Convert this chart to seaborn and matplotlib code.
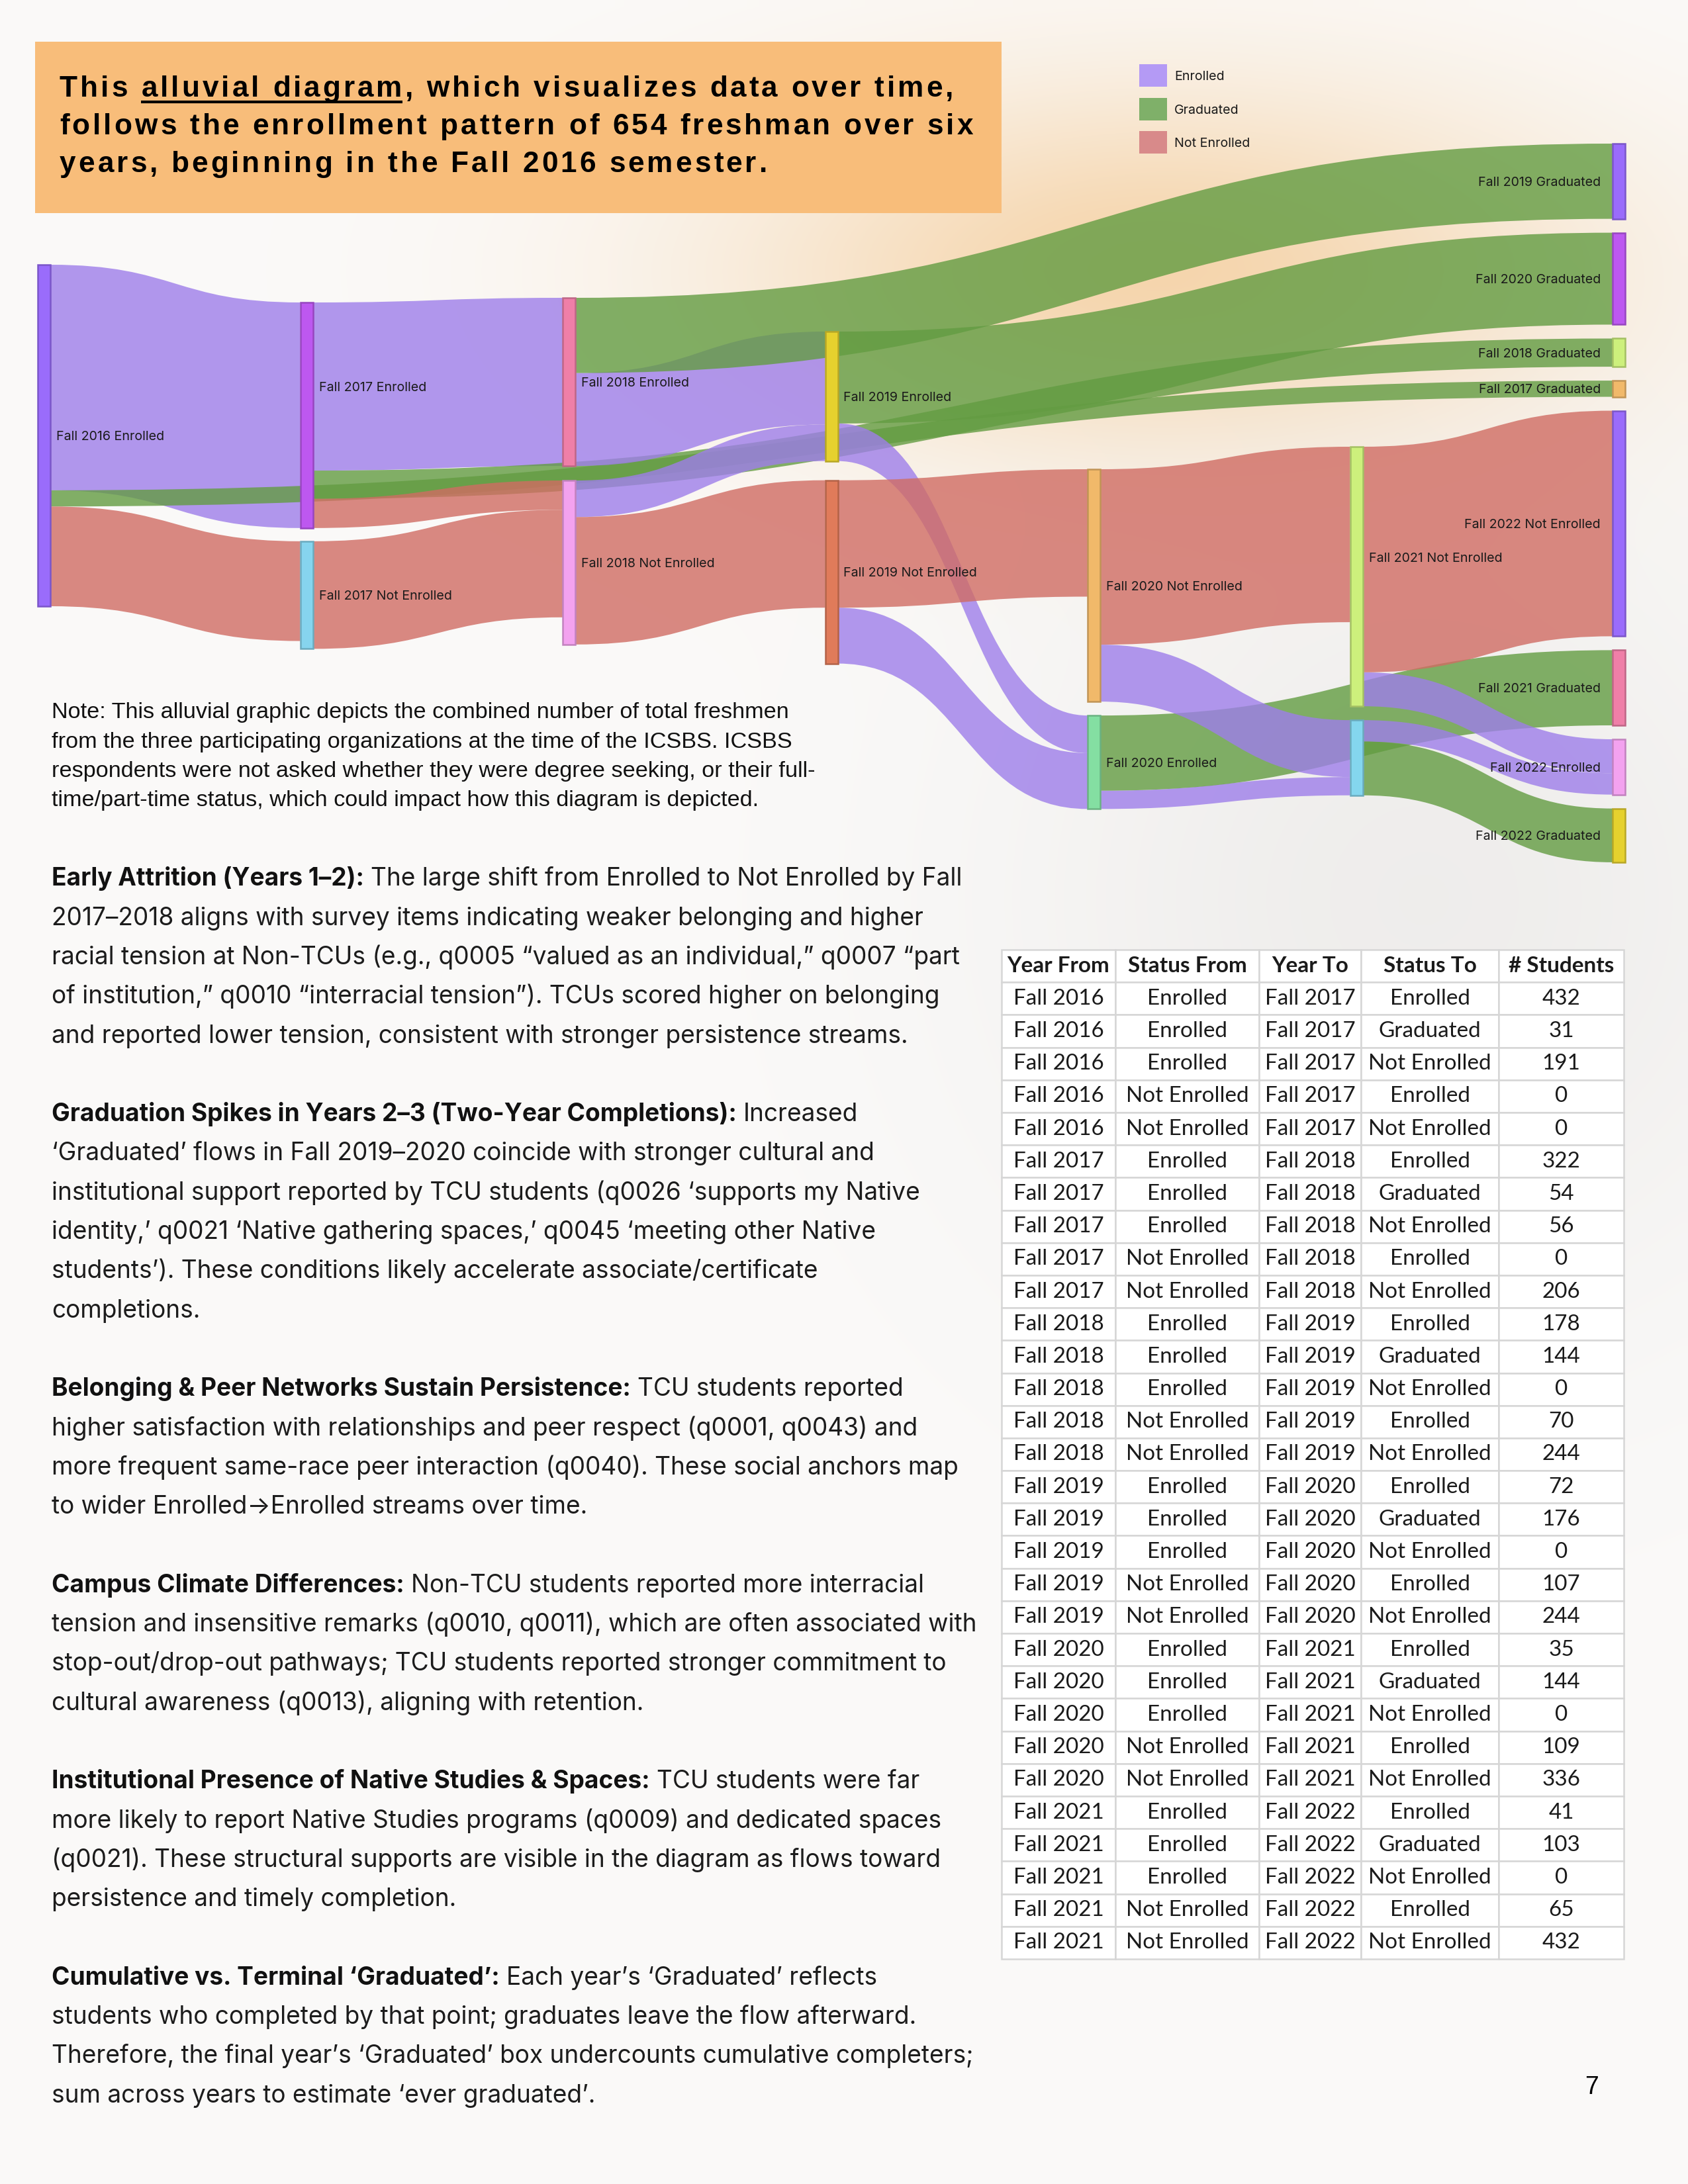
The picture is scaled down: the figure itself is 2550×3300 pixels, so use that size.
import matplotlib
matplotlib.use("Agg")
import numpy as np
import pandas as pd
import matplotlib.pyplot as plt
import matplotlib.colors as mcolors
import seaborn as sns
from matplotlib.path import Path
from matplotlib.patches import PathPatch, Rectangle

# --- Data: student flows between fall semesters (table on the page) ---
YEAR_FROM = (["Fall 2016"] * 5 + ["Fall 2017"] * 5 + ["Fall 2018"] * 5 +
             ["Fall 2019"] * 5 + ["Fall 2020"] * 5 + ["Fall 2021"] * 5)
STATUS_FROM = ["Enrolled", "Enrolled", "Enrolled", "Not Enrolled", "Not Enrolled"] * 6
YEAR_TO = (["Fall 2017"] * 5 + ["Fall 2018"] * 5 + ["Fall 2019"] * 5 +
           ["Fall 2020"] * 5 + ["Fall 2021"] * 5 + ["Fall 2022"] * 5)
STATUS_TO = ["Enrolled", "Graduated", "Not Enrolled", "Enrolled", "Not Enrolled"] * 6
STUDENTS = [432, 31, 191, 0, 0,
            322, 54, 56, 0, 206,
            178, 144, 0, 70, 244,
            72, 176, 0, 107, 244,
            35, 144, 0, 109, 336,
            41, 103, 0, 65, 432]
TABLE_HEADER = ["Year From", "Status From", "Year To", "Status To", "# Students"]
STATUSES = ["Enrolled", "Graduated", "Not Enrolled"]

# node order inside each sankey column (graduates are sinks -> last column)
COLUMN_NODES = [
    ["Fall 2016 Enrolled"],
    ["Fall 2017 Enrolled", "Fall 2017 Not Enrolled"],
    ["Fall 2018 Enrolled", "Fall 2018 Not Enrolled"],
    ["Fall 2019 Enrolled", "Fall 2019 Not Enrolled"],
    ["Fall 2020 Not Enrolled", "Fall 2020 Enrolled"],
    ["Fall 2021 Not Enrolled", "Fall 2021 Enrolled"],
    ["Fall 2019 Graduated", "Fall 2020 Graduated", "Fall 2018 Graduated",
     "Fall 2017 Graduated", "Fall 2022 Not Enrolled", "Fall 2021 Graduated",
     "Fall 2022 Enrolled", "Fall 2022 Graduated"],
]
NODE_COLORS = {
    "Fall 2016 Enrolled": "#9a6cfb",
    "Fall 2017 Enrolled": "#bd58f0", "Fall 2017 Not Enrolled": "#86d4ee",
    "Fall 2018 Enrolled": "#ef7fa8", "Fall 2018 Not Enrolled": "#f3a2ef",
    "Fall 2019 Enrolled": "#e6d12e", "Fall 2019 Not Enrolled": "#e07b5a",
    "Fall 2020 Not Enrolled": "#f1b96a", "Fall 2020 Enrolled": "#84dfa2",
    "Fall 2021 Not Enrolled": "#cdf07c", "Fall 2021 Enrolled": "#84d6ee",
    "Fall 2019 Graduated": "#9a6cfb", "Fall 2020 Graduated": "#bd58f0",
    "Fall 2018 Graduated": "#cdf07c", "Fall 2017 Graduated": "#f1b96a",
    "Fall 2022 Not Enrolled": "#9a6cfb", "Fall 2021 Graduated": "#ef7fa8",
    "Fall 2022 Enrolled": "#f3a2ef", "Fall 2022 Graduated": "#e6d12e",
}
LINK_COLORS = {"Enrolled": "#9e7eea", "Graduated": "#639c42", "Not Enrolled": "#d06c63"}
LEGEND_COLORS = {"Enrolled": "#b49af5", "Graduated": "#7fb069", "Not Enrolled": "#d88a8a"}
# labels that sit off-centre (or are hidden) in the original rendering
LABEL_DY = {"Fall 2017 Enrolled": -44, "Fall 2021 Not Enrolled": -29}
HIDDEN_LABELS = {"Fall 2021 Enrolled"}

TITLE_LINES = ["This alluvial diagram, which visualizes data over time,",
               "follows the enrollment pattern of 654 freshman over six",
               "years, beginning in the Fall 2016 semester."]
NOTE_LINES = ["Note: This alluvial graphic depicts the combined number of total freshmen",
              "from the three participating organizations at the time of the ICSBS. ICSBS",
              "respondents were not asked whether they were degree seeking, or their full-",
              "time/part-time status, which could impact how this diagram is depicted."]
PARAGRAPHS = [
    ("Early Attrition (Years 1\u20132):",
     ["The large shift from Enrolled to Not Enrolled by Fall",
      "2017\u20132018 aligns with survey items indicating weaker belonging and higher",
      "racial tension at Non-TCUs (e.g., q0005 \u201cvalued as an individual,\u201d q0007 \u201cpart",
      "of institution,\u201d q0010 \u201cinterracial tension\u201d). TCUs scored higher on belonging",
      "and reported lower tension, consistent with stronger persistence streams."]),
    ("Graduation Spikes in Years 2\u20133 (Two-Year Completions):",
     ["Increased",
      "\u2018Graduated\u2019 flows in Fall 2019\u20132020 coincide with stronger cultural and",
      "institutional support reported by TCU students (q0026 \u2018supports my Native",
      "identity,\u2019 q0021 \u2018Native gathering spaces,\u2019 q0045 \u2018meeting other Native",
      "students\u2019). These conditions likely accelerate associate/certificate",
      "completions."]),
    ("Belonging & Peer Networks Sustain Persistence:",
     ["TCU students reported",
      "higher satisfaction with relationships and peer respect (q0001, q0043) and",
      "more frequent same-race peer interaction (q0040). These social anchors map",
      "to wider Enrolled\u2192Enrolled streams over time."]),
    ("Campus Climate Differences:",
     ["Non-TCU students reported more interracial",
      "tension and insensitive remarks (q0010, q0011), which are often associated with",
      "stop-out/drop-out pathways; TCU students reported stronger commitment to",
      "cultural awareness (q0013), aligning with retention."]),
    ("Institutional Presence of Native Studies & Spaces:",
     ["TCU students were far",
      "more likely to report Native Studies programs (q0009) and dedicated spaces",
      "(q0021). These structural supports are visible in the diagram as flows toward",
      "persistence and timely completion."]),
    ("Cumulative vs. Terminal \u2018Graduated\u2019:",
     ["Each year\u2019s \u2018Graduated\u2019 reflects",
      "students who completed by that point; graduates leave the flow afterward.",
      "Therefore, the final year\u2019s \u2018Graduated\u2019 box undercounts cumulative completers;",
      "sum across years to estimate \u2018ever graduated\u2019."]),
]

# --- Page geometry (pixels of the 2550x3300 page) ---
W, H = 2550, 3300
PT2PX = 300 / 72
PX_PER_STUDENT = 0.789
COL_X0, COL_STEP, NODE_W = 57, 396.5, 19
COL_TOP = [400, 457, 450, 501, 709, 675, 217]
COL_GAP = [0, 20, 22, 29, 21, 21, 21]

sns.set_theme(style="white")
plt.rcParams["font.family"] = ["Inter", "DejaVu Sans"]

fig = plt.figure(figsize=(8.5, 11), dpi=300)
ax = fig.add_axes([0, 0, 1, 1])
ax.set_xlim(0, W)
ax.set_ylim(H, 0)
ax.axis("off")
renderer = fig.canvas.get_renderer()

# soft page background: peach glow top right, grey wash on the right
gy, gx = np.mgrid[0:H:20, 0:W:20]
base = np.array([251, 250, 249], float)
peach = np.array([245, 204, 152], float)
grey = np.array([224, 222, 220], float)
w1 = 0.8 * np.exp(-((gx - 1750) / 650) ** 2 - ((gy - 400) / 280) ** 2)
w2 = 0.45 * np.exp(-((gx - 2150) / 650) ** 2 - ((gy - 1350) / 650) ** 2)
img = base * (1 - w1[..., None]) + peach * w1[..., None]
img = img * (1 - w2[..., None]) + grey * w2[..., None]
ax.imshow(img / 255, extent=[0, W, H, 0], interpolation="bilinear", aspect="auto", zorder=0)


def measure(text, **kw):
    t = ax.text(0, 0, text, **kw)
    w = t.get_window_extent(renderer=renderer).width
    t.remove()
    return w


def fit_size(text, target, **kw):
    return 10.0 * target / measure(text, fontsize=10, **kw)


def put(x, yc, text, size, **kw):
    # place text so that its cap-height centre sits on yc
    return ax.text(x, yc + 0.36 * size * PT2PX, text, fontsize=size, va="baseline", **kw)


# --- Sankey layout ---
flows = pd.DataFrame({"year_from": YEAR_FROM, "status_from": STATUS_FROM,
                      "year_to": YEAR_TO, "status_to": STATUS_TO, "students": STUDENTS})
flows = flows[flows["students"] > 0].reset_index(drop=True)
flows["source"] = flows["year_from"] + " " + flows["status_from"]
flows["target"] = flows["year_to"] + " " + flows["status_to"]
out_tot = flows.groupby("source")["students"].sum()
in_tot = flows.groupby("target")["students"].sum()

nodes = {}
for c, names in enumerate(COLUMN_NODES):
    y = COL_TOP[c]
    for n in names:
        val = max(out_tot.get(n, 0), in_tot.get(n, 0))
        x0 = COL_X0 + c * COL_STEP
        nodes[n] = {"col": c, "x0": x0, "x1": x0 + NODE_W, "y0": y, "y1": y + val * PX_PER_STUDENT}
        y = nodes[n]["y1"] + COL_GAP[c]

flows["sy0"] = 0.0
flows["ty0"] = 0.0
for n, nd in nodes.items():
    out = flows[flows["source"] == n].copy()
    out["key"] = [nodes[t]["y0"] for t in out["target"]]
    y = nd["y0"]
    for i in out.sort_values("key").index:
        flows.loc[i, "sy0"] = y
        y += flows.loc[i, "students"] * PX_PER_STUDENT
    inc = flows[flows["target"] == n].copy()
    inc["key"] = [nodes[s]["y0"] for s in inc["source"]]
    y = nd["y0"]
    for i in inc.sort_values("key").index:
        flows.loc[i, "ty0"] = y
        y += flows.loc[i, "students"] * PX_PER_STUDENT

for _, f in flows.iterrows():
    xa = nodes[f["source"]]["x1"]
    xb = nodes[f["target"]]["x0"]
    h = f["students"] * PX_PER_STUDENT
    ya, yb = f["sy0"], f["ty0"]
    xm = (xa + xb) / 2
    verts = [(xa, ya), (xm, ya), (xm, yb), (xb, yb),
             (xb, yb + h), (xm, yb + h), (xm, ya + h), (xa, ya + h), (xa, ya)]
    codes = [Path.MOVETO, Path.CURVE4, Path.CURVE4, Path.CURVE4,
             Path.LINETO, Path.CURVE4, Path.CURVE4, Path.CURVE4, Path.CLOSEPOLY]
    ax.add_patch(PathPatch(Path(verts, codes), facecolor=LINK_COLORS[f["status_to"]],
                           alpha=0.8, lw=0, zorder=2))

label_size = fit_size("Fall 2016 Enrolled", 164)
for n, nd in nodes.items():
    fc = NODE_COLORS[n]
    ec = tuple(v * 0.8 for v in mcolors.to_rgb(fc))
    ax.add_patch(Rectangle((nd["x0"], nd["y0"]), NODE_W, nd["y1"] - nd["y0"],
                           facecolor=fc, edgecolor=ec, lw=0.6, zorder=3))
    if n in HIDDEN_LABELS:
        continue
    yc = (nd["y0"] + nd["y1"]) / 2 + LABEL_DY.get(n, 0)
    if nd["col"] == len(COLUMN_NODES) - 1:
        put(nd["x0"] - 18, yc, n, label_size, ha="right", color="#1a1a1a", zorder=4)
    else:
        put(nd["x1"] + 9, yc, n, label_size, ha="left", color="#1a1a1a", zorder=4)

# legend
for i, s in enumerate(STATUSES):
    yc = 114 + i * 50.5
    ax.add_patch(Rectangle((1721, yc - 17), 42, 34, facecolor=LEGEND_COLORS[s], lw=0, zorder=4))
    put(1774, yc, s, label_size, ha="left", color="#1a1a1a", zorder=4)

# --- Title box (letter-spaced bold text) ---
ax.add_patch(Rectangle((53, 63), 1460, 259, facecolor="#f8bd7a", lw=0, zorder=1))
tkw = dict(fontfamily=["Liberation Sans", "DejaVu Sans"], fontweight="bold")
title_size = 10.6
_nn = measure("nn", fontsize=title_size, **tkw)
advance = {ch: measure("n" + ch + "n", fontsize=title_size, **tkw) - _nn
           for ch in set("".join(TITLE_LINES))}
natural = sum(advance[ch] for ch in TITLE_LINES[1])
tracking = (1380 - natural) / (len(TITLE_LINES[1]) - 1)
char_x = []
for i, line in enumerate(TITLE_LINES):
    x = 90
    xs = []
    for ch in line:
        xs.append(x)
        if ch != " ":
            put(x, 130 + i * 57, ch, title_size, color="black", zorder=5, **tkw)
        x += advance[ch] + tracking
    char_x.append(xs)
# underline "alluvial diagram"
u0 = TITLE_LINES[0].index("alluvial")
u1 = u0 + len("alluvial diagram") - 1
uy = 130 + 0.36 * title_size * PT2PX + 8
ax.plot([char_x[0][u0], char_x[0][u1] + advance[TITLE_LINES[0][u1]]], [uy, uy],
        color="black", lw=1.0, zorder=5, solid_capstyle="butt")

# --- Note ---
nkw = dict(fontfamily=["Liberation Sans", "DejaVu Sans"])
note_size = fit_size(NOTE_LINES[0], 1115, **nkw)
for i, line in enumerate(NOTE_LINES):
    put(78, 1073 + i * 44.3, line, note_size, color="#111111", zorder=5, **nkw)

# --- Body paragraphs ---
body_size = fit_size(PARAGRAPHS[0][1][1], 1319)
space_w = measure("n n", fontsize=body_size) - measure("nn", fontsize=body_size)
k = 0
for head, lines in PARAGRAPHS:
    yc = 1325 + k * 59.3
    hw = measure(head, fontsize=body_size, fontweight="bold")
    put(78, yc, head, body_size, fontweight="bold", color="#111111", zorder=5)
    put(78 + hw + space_w, yc, lines[0], body_size, color="#1c1c1c", zorder=5)
    k += 1
    for line in lines[1:]:
        put(78, 1325 + k * 59.3, line, body_size, color="#1c1c1c", zorder=5)
        k += 1
    k += 1

# --- Table ---
cells = [[a, b, c, d, str(e)] for a, b, c, d, e in
         zip(YEAR_FROM, STATUS_FROM, YEAR_TO, STATUS_TO, STUDENTS)]
col_edges = [1513, 1685, 1902, 2056, 2264, 2453]
widths = np.diff(col_edges) / (col_edges[-1] - col_edges[0])
t_top, t_bot = 1435, 2960
table = ax.table(cellText=cells, colLabels=TABLE_HEADER, colWidths=list(widths),
                 cellLoc="center",
                 bbox=[col_edges[0] / W, 1 - t_bot / H,
                       (col_edges[-1] - col_edges[0]) / W, (t_bot - t_top) / H])
table.auto_set_font_size(False)
tbl_size = fit_size("Not Enrolled", 185, fontfamily=["Lato", "DejaVu Sans"])
for (r, c), cell in table.get_celld().items():
    cell.set_facecolor("white")
    cell.set_edgecolor("#d6d6d6")
    cell.set_linewidth(0.6)
    cell.set_text_props(fontfamily=["Lato", "DejaVu Sans"], fontsize=tbl_size,
                        color="#1a1a1a", fontweight="bold" if r == 0 else "normal")
table.set_zorder(5)

# page number
put(2405, 3150, "7", 9, ha="center", color="black", fontfamily=["Liberation Sans"], zorder=5)

fig.savefig("out.png", dpi=300)
